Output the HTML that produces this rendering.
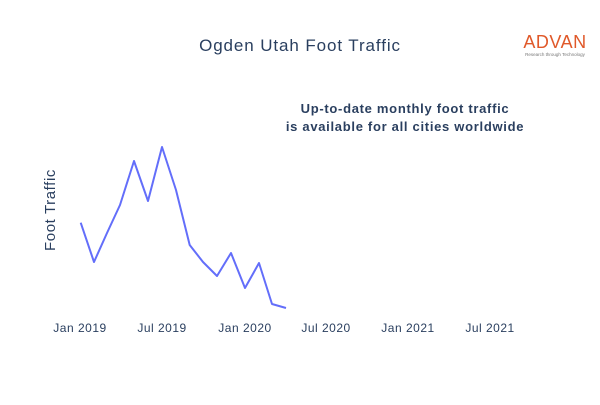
<!DOCTYPE html>
<html><head><meta charset="utf-8"><style>
body{margin:0;background:#fff;}
svg text{font-family:"Liberation Sans",sans-serif;}
</style></head><body>
<svg width="600" height="400" xmlns="http://www.w3.org/2000/svg">
<rect width="600" height="400" fill="#fff"/>
<text x="300" y="51" text-anchor="middle" font-size="17" letter-spacing="0.9" fill="#2a3f5f">Ogden Utah Foot Traffic</text>
<text x="555" y="48" text-anchor="middle" font-size="18" fill="#e0592a" letter-spacing="0.5">ADVAN</text>
<text x="555" y="56" text-anchor="middle" font-size="4.5" fill="#777">Research through Technology</text>
<text x="405" y="113" text-anchor="middle" font-size="13" letter-spacing="0.7" font-weight="bold" fill="#2a3f5f">Up-to-date monthly foot traffic</text>
<text x="405" y="131" text-anchor="middle" font-size="13" letter-spacing="0.7" font-weight="bold" fill="#2a3f5f">is available for all cities worldwide</text>
<text transform="translate(55,210) rotate(-90)" text-anchor="middle" font-size="15" letter-spacing="0.6" fill="#2a3f5f">Foot Traffic</text>
<polyline fill="none" stroke="#636efa" stroke-width="2" stroke-linejoin="round" points="80.7,222.7 94,262 107,233 120,205 134,161 148,201 162,147 176,190 189.7,245 203,262 217,276 231,253 245,288 259,263 272,304 286,308"/>
<g font-size="12" letter-spacing="0.5" fill="#2a3f5f" text-anchor="middle">
<text x="80" y="332">Jan 2019</text>
<text x="162" y="332">Jul 2019</text>
<text x="245" y="332">Jan 2020</text>
<text x="326" y="332">Jul 2020</text>
<text x="408" y="332">Jan 2021</text>
<text x="490" y="332">Jul 2021</text>
</g>
</svg>
</body></html>
